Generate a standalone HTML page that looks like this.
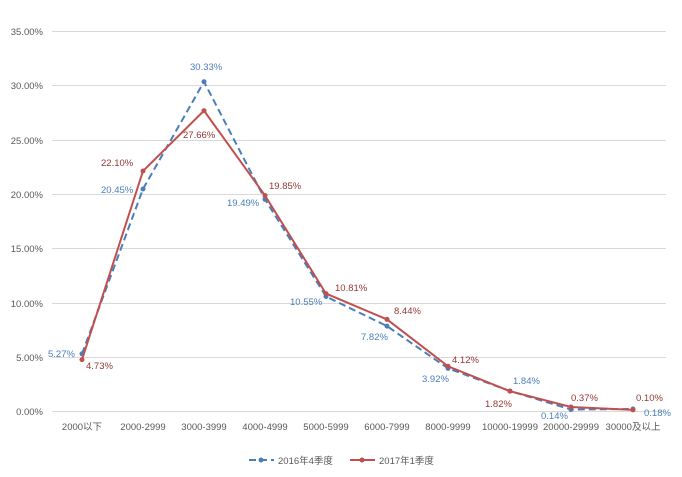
<!DOCTYPE html>
<html><head><meta charset="utf-8"><style>body{margin:0;background:#fff}svg{display:block}text{font-family:"Liberation Sans","Noto Sans CJK SC",sans-serif;font-size:9.5px}</style></head><body>
<svg width="682" height="477" xmlns="http://www.w3.org/2000/svg">
<g stroke="#d9d9d9" stroke-width="1">
<line x1="52" y1="31.5" x2="666" y2="31.5"/><line x1="52" y1="85.5" x2="666" y2="85.5"/><line x1="52" y1="140.5" x2="666" y2="140.5"/><line x1="52" y1="194.5" x2="666" y2="194.5"/><line x1="52" y1="248.5" x2="666" y2="248.5"/><line x1="52" y1="303.5" x2="666" y2="303.5"/><line x1="52" y1="357.5" x2="666" y2="357.5"/><line x1="52" y1="411.5" x2="666" y2="411.5"/>
</g>
<g fill="#595959" text-anchor="end">
<text x="43" y="35">35.00%</text><text x="43" y="89">30.00%</text><text x="43" y="144">25.00%</text><text x="43" y="198">20.00%</text><text x="43" y="252">15.00%</text><text x="43" y="307">10.00%</text><text x="43" y="361">5.00%</text><text x="43" y="415">0.00%</text>
</g>
<g fill="#595959" text-anchor="middle" font-size="9">
<text x="82" y="430">2000以下</text><text x="143" y="430">2000-2999</text><text x="204" y="430">3000-3999</text><text x="265" y="430">4000-4999</text><text x="326" y="430">5000-5999</text><text x="387" y="430">6000-7999</text><text x="448" y="430">8000-9999</text><text x="510" y="430">10000-19999</text><text x="571" y="430">20000-29999</text><text x="633" y="430">30000及以上</text>
</g>
<polyline fill="none" stroke="#4a7ebb" stroke-width="2" stroke-dasharray="7,4" points="82,353.8 143,189 204,81.7 265,199.4 326,296.5 387,326.1 448,368.4 510,391 571,409.5 633,409"/>
<g fill="#4a7ebb"><circle cx="82" cy="353.8" r="2.5"/><circle cx="143" cy="189" r="2.5"/><circle cx="204" cy="81.7" r="2.5"/><circle cx="265" cy="199.4" r="2.5"/><circle cx="326" cy="296.5" r="2.5"/><circle cx="387" cy="326.1" r="2.5"/><circle cx="448" cy="368.4" r="2.5"/><circle cx="510" cy="391" r="2.5"/><circle cx="571" cy="409.5" r="2.5"/><circle cx="633" cy="409" r="2.5"/></g>
<polyline fill="none" stroke="#c0504d" stroke-width="2" points="82,359.6 143,171 204,110.7 265,195.5 326,293.6 387,319.4 448,366.3 510,391.2 571,407 633,409.9"/>
<g fill="#c0504d"><circle cx="82" cy="359.6" r="2.5"/><circle cx="143" cy="171" r="2.5"/><circle cx="204" cy="110.7" r="2.5"/><circle cx="265" cy="195.5" r="2.5"/><circle cx="326" cy="293.6" r="2.5"/><circle cx="387" cy="319.4" r="2.5"/><circle cx="448" cy="366.3" r="2.5"/><circle cx="510" cy="391.2" r="2.5"/><circle cx="571" cy="407" r="2.5"/><circle cx="633" cy="409.9" r="2.5"/></g>
<g fill="#4a7ebb">
<text x="48" y="357">5.27%</text><text x="101" y="193">20.45%</text><text x="190" y="70">30.33%</text><text x="227" y="206">19.49%</text><text x="290" y="305">10.55%</text><text x="361" y="340">7.82%</text><text x="422" y="382">3.92%</text><text x="513" y="384">1.84%</text><text x="541" y="419">0.14%</text><text x="644" y="416">0.18%</text>
</g>
<g fill="#953735">
<text x="86" y="369">4.73%</text><text x="101" y="166">22.10%</text><text x="183" y="138">27.66%</text><text x="269" y="189">19.85%</text><text x="335" y="291">10.81%</text><text x="394" y="314">8.44%</text><text x="452" y="363">4.12%</text><text x="485" y="407">1.82%</text><text x="571" y="401">0.37%</text><text x="636" y="401">0.10%</text>
</g>
<line x1="249" y1="460" x2="274" y2="460" stroke="#4a7ebb" stroke-width="2" stroke-dasharray="7,4"/><circle cx="261" cy="460" r="2.5" fill="#4a7ebb"/>
<text x="278" y="464" fill="#595959">2016年4季度</text>
<line x1="350" y1="460" x2="375" y2="460" stroke="#c0504d" stroke-width="2"/><circle cx="362" cy="460" r="2.5" fill="#c0504d"/>
<text x="379" y="464" fill="#595959">2017年1季度</text>
</svg>
</body></html>
